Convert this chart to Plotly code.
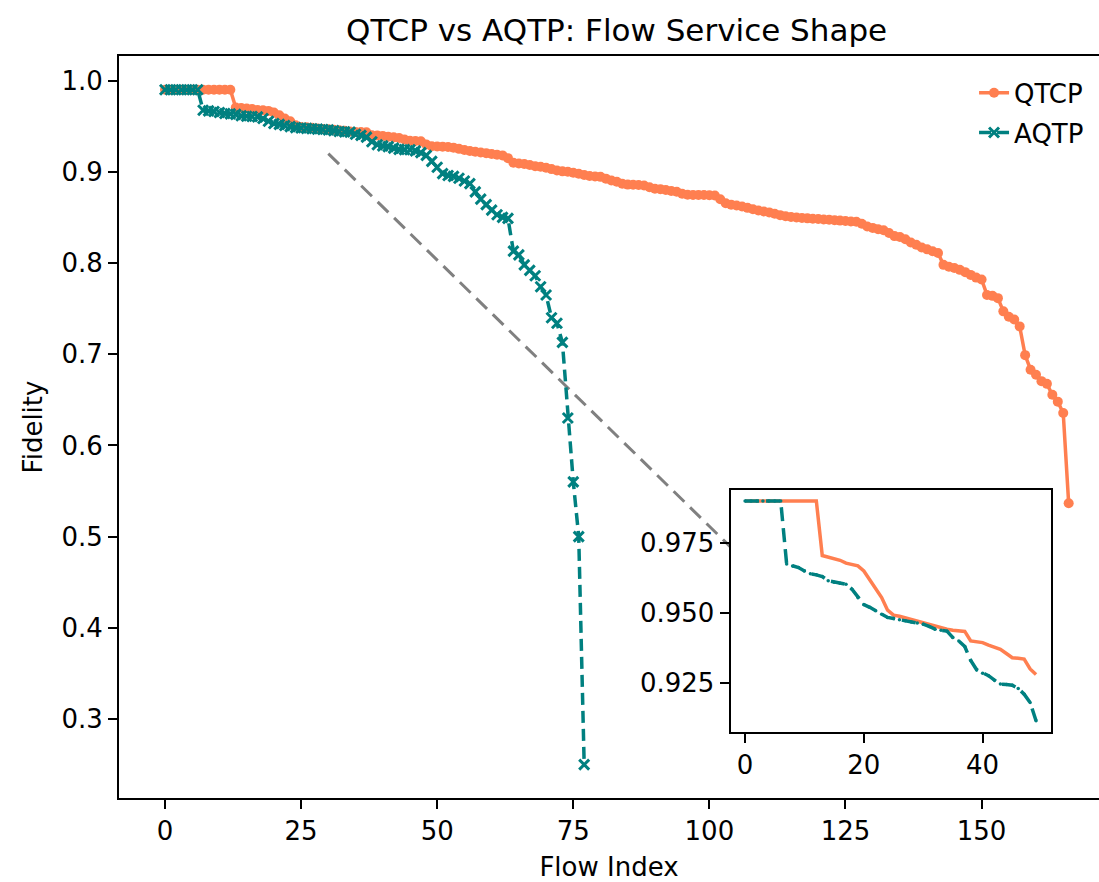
import plotly.graph_objects as go

# Per-flow fidelity, sorted from best to worst service
qtcp = [
    0.990, 0.990, 0.990, 0.990, 0.990, 0.990, 0.990, 0.990, 0.990, 0.990,
    0.990, 0.990, 0.990, 0.9705, 0.9699, 0.9695, 0.9688, 0.9678, 0.9674, 0.9668,
    0.9650, 0.9620, 0.9585, 0.9555, 0.9510, 0.9492, 0.9488, 0.9482, 0.9476, 0.9470,
    0.9466, 0.9460, 0.9455, 0.9449, 0.9442, 0.9438, 0.9436, 0.9434, 0.9400, 0.9398,
    0.9394, 0.9385, 0.9378, 0.9370, 0.9355, 0.9340, 0.9338, 0.9335, 0.9300, 0.9280,
    0.9278, 0.9276, 0.9272, 0.9265, 0.9252, 0.9240, 0.9228, 0.9220, 0.9212, 0.9205,
    0.9195, 0.9188, 0.9180, 0.9150, 0.9100, 0.9092, 0.9085, 0.9075, 0.9062, 0.9055,
    0.9045, 0.9030, 0.9015, 0.9005, 0.9000, 0.8990, 0.8978, 0.8965, 0.8955, 0.8950,
    0.8945, 0.8925, 0.8905, 0.8892, 0.8870, 0.8860, 0.8858, 0.8856, 0.8850, 0.8830,
    0.8815, 0.8810, 0.8800, 0.8790, 0.8782, 0.8760, 0.8748, 0.8747, 0.8746, 0.8745,
    0.8744, 0.8740, 0.8700, 0.8655, 0.8640, 0.8630, 0.8620, 0.8605, 0.8590, 0.8575,
    0.8565, 0.8555, 0.8540, 0.8525, 0.8512, 0.8505, 0.8500, 0.8495, 0.8490, 0.8486,
    0.8482, 0.8478, 0.8474, 0.8470, 0.8465, 0.8460, 0.8456, 0.8452, 0.8430, 0.8400,
    0.8385, 0.8370, 0.8360, 0.8330, 0.8295, 0.8285, 0.8260, 0.8225, 0.8200, 0.8170,
    0.8150, 0.8130, 0.8110, 0.7980, 0.7960, 0.7945, 0.7925, 0.7900, 0.7870, 0.7840,
    0.7820, 0.7650, 0.7640, 0.7615, 0.7470, 0.7410, 0.7380, 0.7305, 0.6990, 0.6830,
    0.6775, 0.6705, 0.6675, 0.6555, 0.6480, 0.6355, 0.5365,
]

aqtp = [
    0.990, 0.990, 0.990, 0.990, 0.990, 0.990, 0.990, 0.9675, 0.9668, 0.9662,
    0.9650, 0.9640, 0.9636, 0.9630, 0.9615, 0.9610, 0.9606, 0.9602, 0.9585, 0.9555,
    0.9530, 0.9520, 0.9508, 0.9495, 0.9484, 0.9480, 0.9476, 0.9472, 0.9468, 0.9464,
    0.9460, 0.9452, 0.9442, 0.9438, 0.9435, 0.9412, 0.9400, 0.9380, 0.9330, 0.9297,
    0.9285, 0.9276, 0.9260, 0.9246, 0.9244, 0.9242, 0.9230, 0.9210, 0.9180, 0.9115,
    0.905, 0.898, 0.896, 0.895, 0.893, 0.890, 0.887, 0.878, 0.870, 0.864,
    0.858, 0.853, 0.850, 0.849, 0.813, 0.809, 0.798, 0.792, 0.786, 0.774,
    0.765, 0.740, 0.734, 0.713, 0.630, 0.560, 0.500, 0.250,
]

qtcp_idx = list(range(len(qtcp)))
aqtp_idx = list(range(len(aqtp)))

# Head of each ranking shown in the zoomed inset
INSET_N = 50

# Guide line pointing from the main curves towards the inset
guide_x = [30, 104]
guide_y = [0.92, 0.488]

main_xticks = [0, 25, 50, 75, 100, 125, 150]
main_yticks = [0.3, 0.4, 0.5, 0.6, 0.7, 0.8, 0.9, 1.0]
inset_xticks = [0, 20, 40]
inset_yticks = [0.925, 0.950, 0.975]

CORAL = "#FF7F50"
TEAL = "#008080"
FONT = "DejaVu Sans"

fig = go.Figure()

fig.add_trace(go.Scatter(
    x=guide_x, y=guide_y, mode="lines",
    line=dict(color="#808080", width=3, dash="15px,8px"),
    showlegend=False, hoverinfo="skip",
))
fig.add_trace(go.Scatter(
    x=qtcp_idx, y=qtcp, mode="lines+markers", name="QTCP",
    legendgroup="q",
    line=dict(color=CORAL, width=3.5),
    marker=dict(symbol="circle", size=10, color=CORAL),
))
fig.add_trace(go.Scatter(
    x=aqtp_idx, y=aqtp, mode="lines+markers", name="AQTP",
    legendgroup="a",
    line=dict(color=TEAL, width=3.5, dash="12px,6px"),
    marker=dict(symbol="x-thin", size=10, color=TEAL,
                line=dict(color=TEAL, width=3)),
))

# Inset: first flows of each protocol
fig.add_trace(go.Scatter(
    x=qtcp_idx[:INSET_N], y=qtcp[:INSET_N], mode="lines",
    line=dict(color=CORAL, width=3.5),
    xaxis="x2", yaxis="y2", showlegend=False,
))
fig.add_trace(go.Scatter(
    x=aqtp_idx[:INSET_N], y=aqtp[:INSET_N], mode="lines+markers",
    line=dict(color=TEAL, width=3.5, dash="14px,7px"),
    marker=dict(symbol="circle", size=3.5, color=TEAL),
    xaxis="x2", yaxis="y2", showlegend=False,
))

axis_common = dict(
    showline=True, linecolor="black", linewidth=2,
    ticks="outside", ticklen=9, tickwidth=1.8, tickcolor="black",
    showgrid=False, zeroline=False,
    tickfont=dict(family=FONT, size=26, color="black"),
)

fig.update_layout(
    width=1099, height=882,
    margin=dict(l=119, r=0, t=56, b=84),
    paper_bgcolor="white", plot_bgcolor="white",
    font=dict(family=FONT, color="black"),
    title=dict(
        text="QTCP vs AQTP: Flow Service Shape",
        x=616.6 / 1099, xref="container", xanchor="center",
        y=1 - 30 / 882, yref="container", yanchor="middle",
        font=dict(family=FONT, size=31, color="black"),
    ),
    xaxis=dict(
        axis_common, domain=[0, 1], range=[-8.45, 171.57],
        tickvals=main_xticks, mirror=True,
        title=dict(text="Flow Index", standoff=13,
                   font=dict(family=FONT, size=26, color="black")),
    ),
    yaxis=dict(
        axis_common, domain=[0, 1], range=[0.2134, 1.027],
        tickvals=main_yticks, tickformat=".1f", mirror=False,
        title=dict(text="Fidelity", standoff=11,
                   font=dict(family=FONT, size=26, color="black")),
    ),
    xaxis2=dict(
        axis_common, domain=[0.624, 0.9506], range=[-2.45, 51.45],
        tickvals=inset_xticks, mirror=True, anchor="y2",
    ),
    yaxis2=dict(
        axis_common, domain=[0.0894, 0.4151], range=[0.9076, 0.9939],
        tickvals=inset_yticks, tickformat=".3f", mirror=True, anchor="x2",
    ),
    legend=dict(
        x=0.8725, xanchor="left", y=0.982, yanchor="top",
        bgcolor="rgba(0,0,0,0)", borderwidth=0,
        font=dict(family=FONT, size=26, color="black"),
        tracegroupgap=3,
    ),
    showlegend=True,
)

fig.write_html("out.html")
